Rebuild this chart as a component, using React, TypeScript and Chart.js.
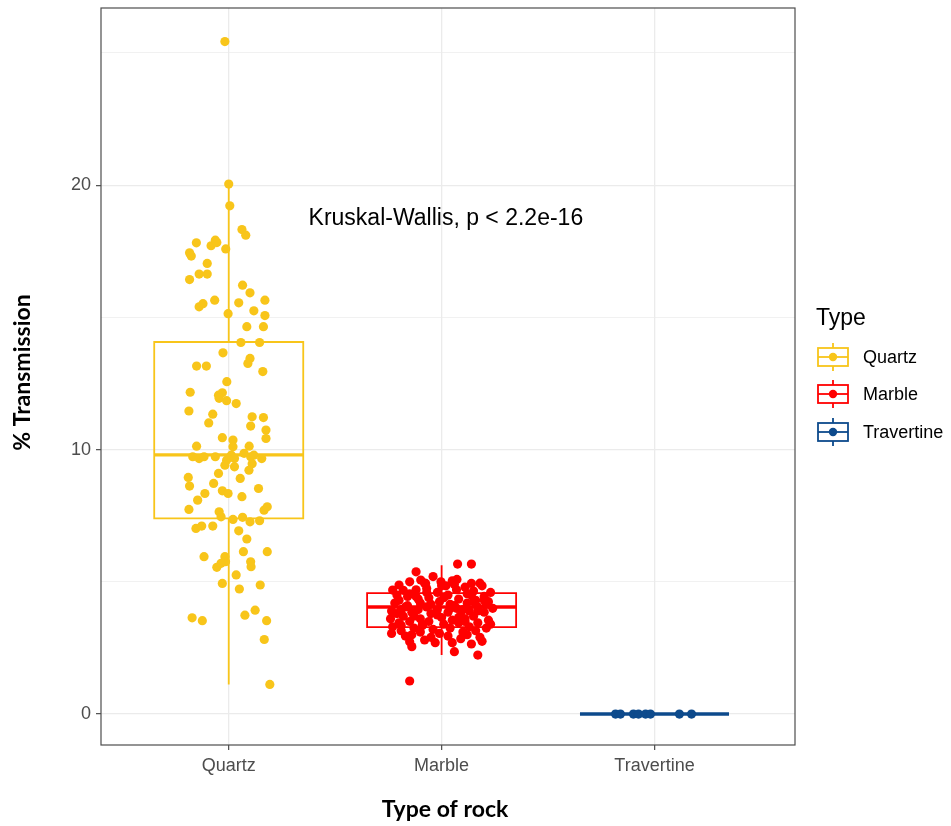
import React, { useEffect, useRef } from "react";
import { Chart, registerables } from "chart.js";

Chart.register(...registerables);

const categories = ["Quartz", "Marble", "Travertine"];
const colors = ["#F8C51A", "#FF0000", "#0D4A8C"];

// box statistics per category
const boxMin = [1.12, 2.23, 0];
const boxQ1 = [7.4, 3.29, 0];
const boxMedian = [9.8, 4.05, 0];
const boxQ3 = [14.07, 4.57, 0];
const boxMax = [20.0, 5.63, 0];

// jittered observations: horizontal jitter (category units) and value
const quartzJitter = [
  -0.018, 0.0, 0.005, 0.062, 0.08, -0.152, -0.083, -0.063, -0.056, -0.014, -0.184, -0.176, -0.101,
  -0.184, -0.139, -0.101, 0.065, 0.1, -0.139, -0.121, -0.066, 0.047, 0.17, 0.118, 0.17, -0.003,
  0.085, 0.163, 0.057, 0.145, -0.027, -0.151, -0.105, 0.1, 0.09, 0.16, -0.009, -0.181, -0.048,
  -0.03, -0.045, -0.01, 0.035, -0.187, -0.075, -0.094, 0.11, 0.163, 0.103, 0.175, 0.175, -0.03,
  0.02, 0.02, -0.151, 0.096, -0.169, -0.139, -0.116, -0.063, -0.01, 0.012, 0.027, 0.072, 0.103,
  0.118, 0.155, 0.11, -0.018, 0.027, -0.048, -0.19, -0.184, 0.095, 0.054, -0.071, -0.03, -0.003,
  0.14, -0.112, -0.146, 0.062, -0.187, -0.045, -0.036, 0.166, 0.181, 0.02, 0.065, 0.1, 0.145,
  -0.154, -0.127, -0.075, 0.047, 0.085, 0.181, 0.069, -0.116, -0.018, -0.015, 0.103, 0.105, -0.056,
  -0.036, 0.035, -0.03, 0.05, 0.148, -0.172, -0.124, 0.076, 0.124, 0.178, 0.167, 0.193,
];
const quartzValues = [
  25.43, 20.04, 19.22, 18.32, 18.11, 17.82, 17.71, 17.92, 17.83, 17.59, 17.44, 17.32, 17.04,
  16.43, 16.64, 16.64, 16.22, 15.93, 15.4, 15.52, 15.65, 15.55, 15.65, 15.25, 15.07, 15.14,
  14.65, 14.65, 14.05, 14.05, 13.66, 13.16, 13.16, 13.45, 13.26, 12.95, 12.57, 12.17, 12.06,
  12.15, 11.94, 11.85, 11.74, 11.46, 11.34, 11.01, 11.24, 11.21, 10.89, 10.74, 10.42, 10.45,
  10.36, 10.11, 10.13, 10.13, 9.73, 9.66, 9.73, 9.73, 9.6, 9.79, 9.66, 9.86, 9.73,
  9.79, 9.66, 9.47, 9.41, 9.35, 9.1, 8.95, 8.62, 9.22, 8.91, 8.72, 8.44, 8.34,
  8.53, 8.34, 8.09, 8.22, 7.74, 7.65, 7.46, 7.71, 7.84, 7.36, 7.44, 7.27, 7.31,
  7.02, 7.11, 7.11, 6.93, 6.62, 6.14, 6.14, 5.95, 5.95, 5.76, 5.76, 5.57, 5.55,
  5.7, 5.26, 4.94, 4.73, 4.88, 3.64, 3.53, 3.74, 3.93, 3.53, 2.82, 1.12,
];

const marbleJitter = [
  -0.2, -0.15, -0.12, -0.098, -0.075, -0.003, 0.05, 0.072, 0.14, 0.075, 0.14, -0.23, -0.21,
  -0.18, -0.15, -0.12, -0.22, -0.235, -0.24, -0.23, -0.235, -0.2, -0.19, -0.18, -0.2, -0.19,
  -0.17, -0.16, -0.14, -0.15, -0.13, -0.14, -0.15, -0.14, -0.12, -0.1, -0.11, -0.1, -0.09,
  -0.1, -0.08, -0.07, -0.06, -0.07, -0.05, -0.06, -0.04, -0.05, -0.03, -0.02, -0.01, -0.02,
  0.0, 0.01, -0.01, 0.02, 0.03, 0.04, 0.03, 0.05, 0.04, 0.03, 0.06, 0.05, 0.07,
  0.08, 0.07, 0.09, 0.08, 0.1, 0.09, 0.11, 0.12, 0.12, 0.13, 0.11, 0.13, 0.12,
  0.17, 0.14, 0.15, 0.16, 0.17, 0.15, 0.17, 0.16, 0.18, 0.19, 0.2, 0.21, 0.2,
  0.22, 0.21, 0.19, 0.23, 0.24, 0.23, 0.18, -0.08, -0.04, 0.0, 0.06, -0.15, -0.17,
  -0.11, -0.05, 0.01, 0.06, 0.1, 0.15, 0.2, -0.21, -0.13, -0.02, 0.08, 0.17, -0.16,
  -0.07, 0.04, 0.14, -0.19, -0.09, 0.11, 0.22,
];
const marbleValues = [
  4.88, 5.0, 5.38, 5.07, 4.94, 5.0, 5.04, 5.09, 4.94, 5.67, 5.67, 4.69, 4.5,
  4.68, 4.55, 4.7, 4.2, 3.9, 3.6, 3.3, 3.05, 4.3, 3.95, 3.7, 3.45, 3.15,
  2.95, 4.1, 3.85, 3.5, 3.25, 3.0, 2.73, 2.55, 4.45, 4.2, 3.95, 3.6, 3.35,
  3.1, 2.8, 4.75, 4.4, 4.05, 3.8, 3.5, 3.2, 2.9, 2.7, 4.6, 4.25, 3.95,
  3.65, 3.4, 3.05, 4.85, 4.5, 4.15, 3.85, 3.55, 3.25, 2.95, 2.36, 2.7, 4.7,
  4.35, 4.0, 3.75, 3.45, 3.1, 2.85, 4.8, 4.55, 4.2, 3.9, 3.6, 3.3, 3.0,
  2.23, 2.65, 4.65, 4.3, 4.05, 3.7, 3.45, 3.15, 2.9, 4.85, 4.45, 4.15, 3.85,
  3.55, 3.25, 2.75, 4.6, 4.0, 3.4, 4.95, 4.95, 5.2, 4.85, 4.9, 1.25, 4.05,
  4.35, 4.15, 4.4, 4.1, 3.95, 4.25, 4.3, 3.8, 3.7, 3.75, 3.65, 3.9, 4.45,
  4.6, 4.0, 4.5, 3.35, 3.4, 3.5, 4.25,
];

const travertineJitter = [-0.183, -0.16, -0.099, -0.075, -0.042, -0.019, 0.117, 0.174];
const travertineValues = [0, 0, 0, 0, 0, 0, 0, 0];

const yTicks = [0, 5, 10, 15, 20, 25];
const annotationText = "Kruskal-Wallis, p < 2.2e-16";
const annotationPos = { x: 2.02, y: 18.75 };
const xTitle = "Type of rock";
const yTitle = "% Transmission";
const legendTitle = "Type";

const BOX_HALF = 0.35;

function toPoints(cat: number, jit: number[], vals: number[]) {
  return vals.map((v, i) => ({ x: cat + jit[i], y: v }));
}

const boxPlugin = {
  id: "boxes",
  beforeDatasetsDraw(chart: any) {
    const { ctx, scales } = chart;
    const xs = scales.x;
    const ys = scales.y;
    ctx.save();
    for (let i = 0; i < categories.length; i++) {
      const cx = xs.getPixelForValue(i + 1);
      const left = xs.getPixelForValue(i + 1 - BOX_HALF);
      const right = xs.getPixelForValue(i + 1 + BOX_HALF);
      const yq1 = ys.getPixelForValue(boxQ1[i]);
      const yq3 = ys.getPixelForValue(boxQ3[i]);
      const ymed = ys.getPixelForValue(boxMedian[i]);
      const ymin = ys.getPixelForValue(boxMin[i]);
      const ymax = ys.getPixelForValue(boxMax[i]);
      ctx.strokeStyle = colors[i];
      ctx.lineWidth = 1.8;
      ctx.beginPath();
      ctx.moveTo(cx, yq3);
      ctx.lineTo(cx, ymax);
      ctx.moveTo(cx, yq1);
      ctx.lineTo(cx, ymin);
      ctx.stroke();
      ctx.beginPath();
      ctx.rect(left, yq3, right - left, yq1 - yq3);
      ctx.stroke();
      ctx.lineWidth = 3.4;
      ctx.beginPath();
      ctx.moveTo(left, ymed);
      ctx.lineTo(right, ymed);
      ctx.stroke();
    }
    ctx.restore();
  },
  afterDraw(chart: any) {
    const { ctx, chartArea, scales } = chart;
    ctx.save();
    // panel border
    ctx.strokeStyle = "#4D4D4D";
    ctx.lineWidth = 1.2;
    ctx.strokeRect(chartArea.left, chartArea.top, chartArea.right - chartArea.left, chartArea.bottom - chartArea.top);

    // annotation
    ctx.fillStyle = "#000000";
    ctx.font = "23px 'Liberation Sans', Arial, sans-serif";
    ctx.textAlign = "center";
    ctx.textBaseline = "middle";
    ctx.fillText(annotationText, scales.x.getPixelForValue(annotationPos.x), scales.y.getPixelForValue(annotationPos.y));

    // axis titles
    ctx.font = "bold 23px Lato, 'Open Sans', sans-serif";
    ctx.fillText(xTitle, (chartArea.left + chartArea.right) / 2 - 3, 810);
    ctx.save();
    ctx.translate(23, (chartArea.top + chartArea.bottom) / 2 - 4);
    ctx.rotate(-Math.PI / 2);
    ctx.fillText(yTitle, 0, 0);
    ctx.restore();

    // legend
    ctx.textAlign = "left";
    ctx.font = "23px 'Liberation Sans', Arial, sans-serif";
    ctx.fillText(legendTitle, 816, 319);
    const legendY = [357, 394, 432];
    ctx.font = "18px 'Liberation Sans', Arial, sans-serif";
    for (let i = 0; i < categories.length; i++) {
      const cy = legendY[i];
      const bx = 818;
      const bw = 30;
      ctx.strokeStyle = colors[i];
      ctx.lineWidth = 1.8;
      ctx.beginPath();
      ctx.moveTo(bx + bw / 2, cy - 14);
      ctx.lineTo(bx + bw / 2, cy - 9);
      ctx.moveTo(bx + bw / 2, cy + 9);
      ctx.lineTo(bx + bw / 2, cy + 14);
      ctx.stroke();
      ctx.strokeRect(bx, cy - 9, bw, 18);
      ctx.beginPath();
      ctx.moveTo(bx, cy);
      ctx.lineTo(bx + bw, cy);
      ctx.stroke();
      ctx.fillStyle = colors[i];
      ctx.beginPath();
      ctx.arc(bx + bw / 2, cy, 4.2, 0, Math.PI * 2);
      ctx.fill();
      ctx.fillStyle = "#000000";
      ctx.fillText(categories[i], 863, cy + 1);
    }
    ctx.restore();
  },
};

export default function App() {
  const ref = useRef<HTMLCanvasElement | null>(null);
  useEffect(() => {
    if (!ref.current) return;
    const datasets = [
      toPoints(1, quartzJitter, quartzValues),
      toPoints(2, marbleJitter, marbleValues),
      toPoints(3, travertineJitter, travertineValues),
    ].map((data, i) => ({
      label: categories[i],
      data,
      backgroundColor: colors[i],
      borderWidth: 0,
      pointRadius: 4.6,
      pointHoverRadius: 4.6,
    }));
    const chart = new Chart(ref.current, {
      type: "scatter",
      data: { datasets },
      plugins: [boxPlugin],
      options: {
        animation: false,
        responsive: false,
        maintainAspectRatio: false,
        layout: { padding: { left: 0, right: 156, top: 8, bottom: 0 } },
        plugins: { legend: { display: false }, tooltip: { enabled: false } },
        scales: {
          x: {
            type: "linear",
            min: 0.4,
            max: 3.66,
            afterBuildTicks: (axis: any) => {
              axis.ticks = categories.map((_, i) => ({ value: i + 1 }));
            },
            afterFit: (axis: any) => {
              axis.height = 81;
              axis.paddingLeft = 0;
              axis.paddingRight = 0;
            },
            ticks: {
              callback: (v: any) => categories[Number(v) - 1] ?? "",
              color: "#4D4D4D",
              font: { family: "'Liberation Sans', Arial, sans-serif", size: 18 },
              padding: 5,
              maxRotation: 0,
            },
            grid: { color: "#EBEBEB", lineWidth: 1.3, tickLength: 5, tickColor: "#4D4D4D", tickWidth: 1.2 },
            border: { display: false },
          },
          y: {
            type: "linear",
            min: -1.17,
            max: 26.7,
            afterBuildTicks: (axis: any) => {
              axis.ticks = yTicks.map((v) => ({ value: v }));
            },
            afterFit: (axis: any) => {
              axis.width = 101;
              axis.paddingTop = 0;
              axis.paddingBottom = 0;
            },
            ticks: {
              callback: (v: any) => (Number(v) % 10 === 0 ? String(v) : ""),
              color: "#4D4D4D",
              font: { family: "'Liberation Sans', Arial, sans-serif", size: 18 },
              padding: 5,
            },
            grid: {
              color: "#EBEBEB",
              lineWidth: (c: any) => (c.tick && c.tick.value % 10 === 0 ? 1.3 : 0.7),
              tickLength: 5,
              tickColor: (c: any) => (c.tick && c.tick.value % 10 === 0 ? "#4D4D4D" : "rgba(0,0,0,0)"),
              tickWidth: 1.2,
            },
            border: { display: false },
          },
        },
      },
    });
    return () => chart.destroy();
  }, []);
  return (
    <div style={{ position: "absolute", left: 0, top: 0, width: 951, height: 826, background: "#fff" }}>
      <canvas ref={ref} width={951} height={826} style={{ display: "block" }} />
    </div>
  );
}
